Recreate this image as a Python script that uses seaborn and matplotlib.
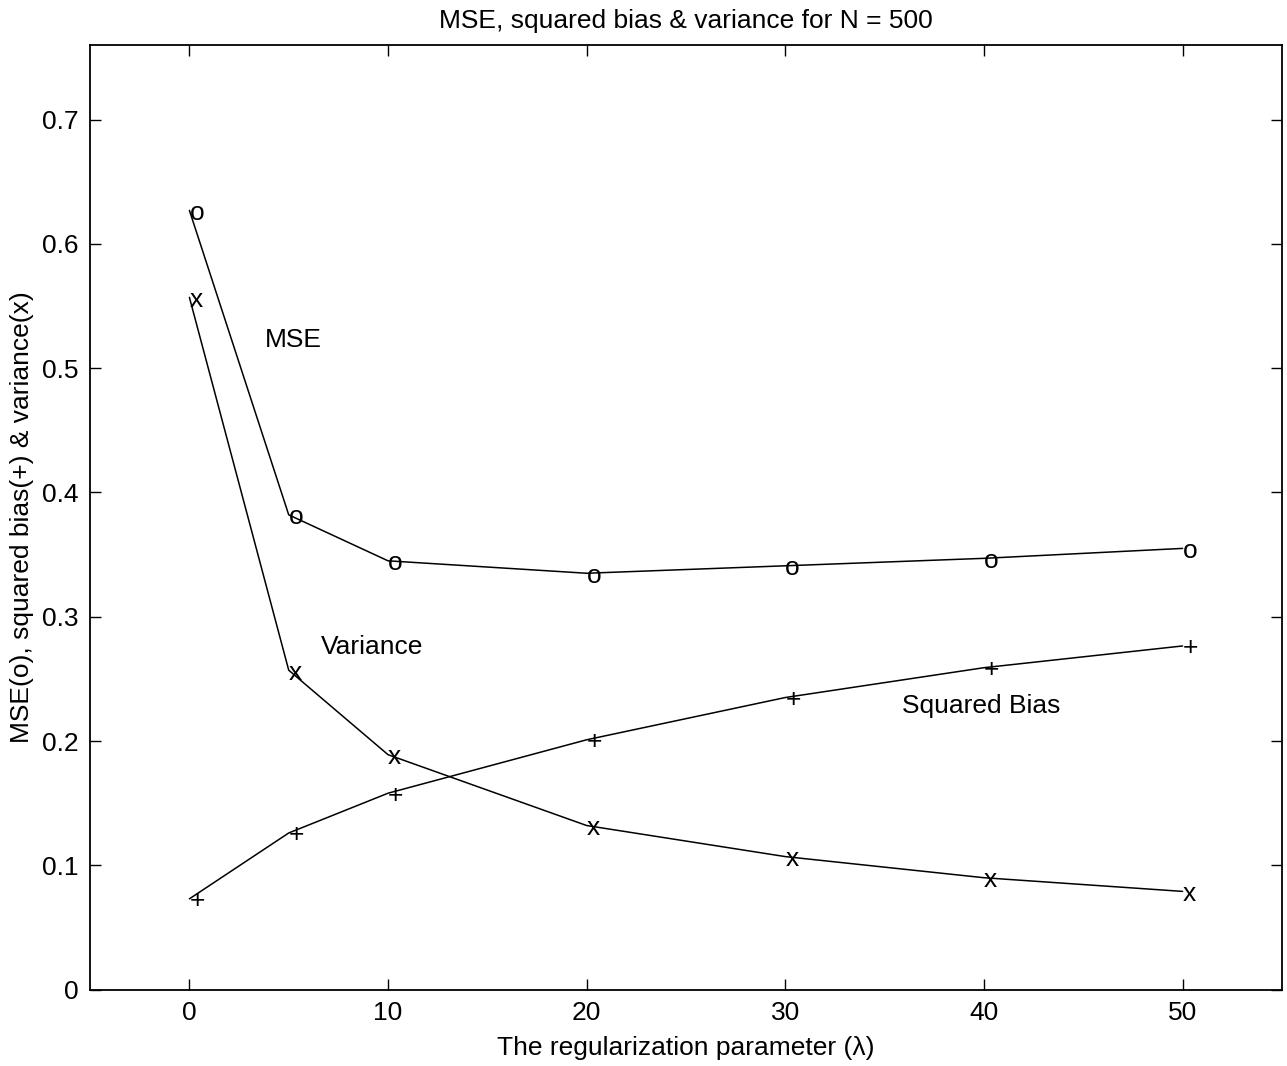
import numpy as np
import pandas as pd
import matplotlib
matplotlib.use("Agg")
import matplotlib.pyplot as plt
import seaborn as sns

# values
lam = [0, 5, 10, 20, 30, 40, 50]
mse = [0.627, 0.382, 0.345, 0.335, 0.341, 0.347, 0.355]
bias2 = [0.073, 0.126, 0.158, 0.201, 0.235, 0.259, 0.2765]
variance = [0.557, 0.257, 0.189, 0.132, 0.107, 0.090, 0.079]

df = pd.concat([
    pd.DataFrame({"lam": lam, "val": mse, "kind": "MSE", "sym": "o"}),
    pd.DataFrame({"lam": lam, "val": bias2, "kind": "Squared Bias", "sym": "+"}),
    pd.DataFrame({"lam": lam, "val": variance, "kind": "Variance", "sym": "x"}),
], ignore_index=True)

sns.set_style("ticks", {"axes.edgecolor": "black", "text.color": "black",
                        "axes.labelcolor": "black", "xtick.color": "black",
                        "ytick.color": "black"})
plt.rcParams['font.family'] = ['Liberation Sans', 'DejaVu Sans']
fs = 19

fig = plt.figure(figsize=(12.87, 10.66), dpi=100)
ax = fig.add_axes([0.070, 0.0717, 0.926, 0.886])

sns.lineplot(data=df, x="lam", y="val", units="kind", estimator=None,
             color="black", lw=1.1, ax=ax, legend=False)

# matlab style: plain characters as markers, left aligned on the point
for _, r in df.iterrows():
    ax.text(r["lam"], r["val"] - 0.002, r["sym"], ha="left", va="center",
            fontsize=fs, color="black")

ax.text(3.8, 0.523, "MSE", ha="left", va="center", fontsize=fs)
ax.text(6.6, 0.276, "Variance", ha="left", va="center", fontsize=fs)
ax.text(35.9, 0.228, "Squared Bias", ha="left", va="center", fontsize=fs)

ax.set_xlim(-5, 55)
ax.set_ylim(0, 0.76)
ax.set_xticks([0, 10, 20, 30, 40, 50])
ax.set_yticks([0, 0.1, 0.2, 0.3, 0.4, 0.5, 0.6, 0.7])
ax.set_yticklabels(["0", "0.1", "0.2", "0.3", "0.4", "0.5", "0.6", "0.7"])
ax.tick_params(direction="in", length=8, width=1, top=True, right=True,
               labelsize=fs, pad=8, colors="black")
for s in ax.spines.values():
    s.set_visible(True)
    s.set_linewidth(1.3)
    s.set_color("black")

ax.set_xlabel("The regularization parameter (\u03bb)", fontsize=fs, labelpad=8)
ax.set_ylabel("MSE(o), squared bias(+) & variance(x)", fontsize=fs, labelpad=6)
ax.set_title("MSE, squared bias & variance for N = 500", fontsize=fs, pad=12)

fig.savefig("out.png", dpi=100)
